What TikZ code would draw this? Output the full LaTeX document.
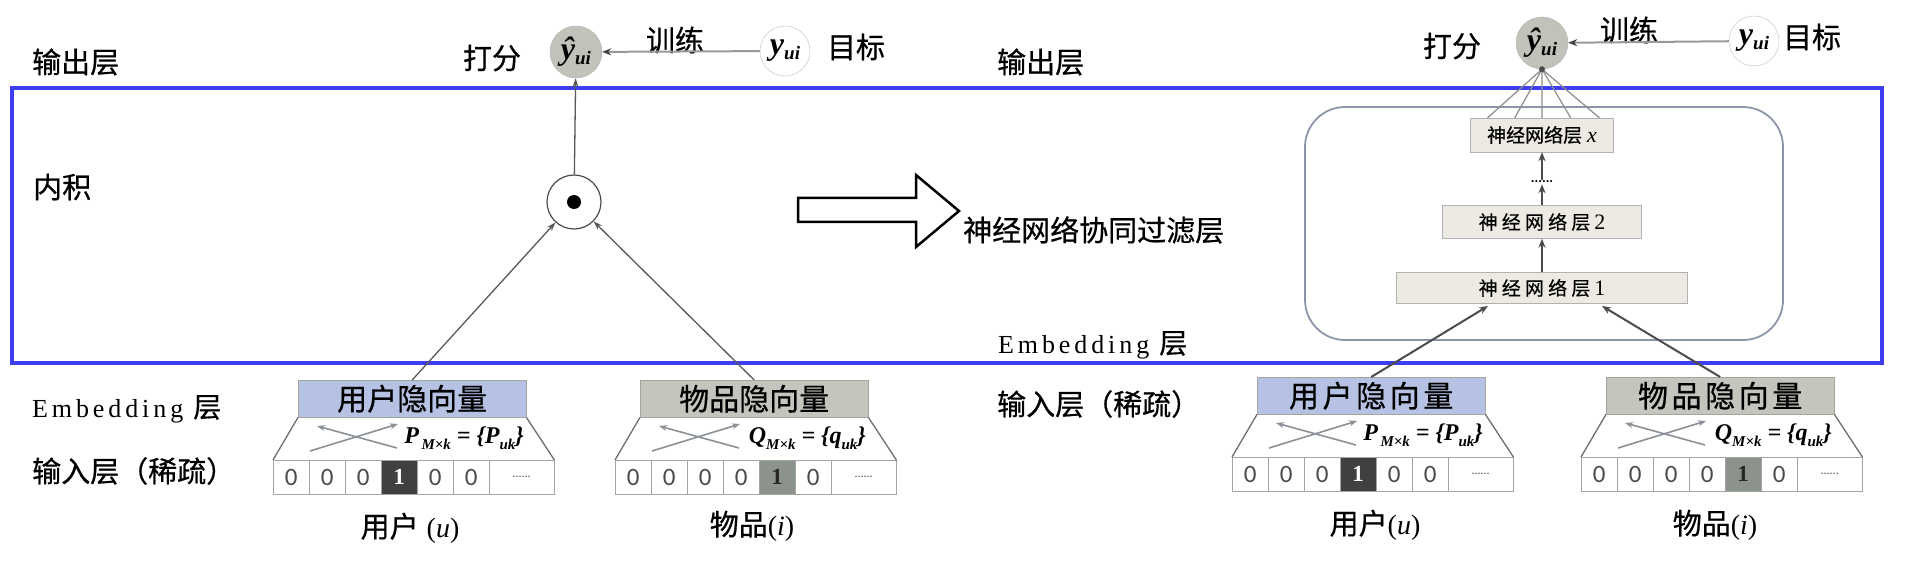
\documentclass[tikz,border=0pt]{standalone}
\usepackage{fontspec}
\setmainfont{Liberation Serif}
\newfontfamily\zh[FakeBold=0.6]{Noto Sans CJK SC}
\newfontfamily\zhs[LetterSpace=12,FakeBold=0.6]{Noto Sans CJK SC}
\newfontfamily\zhw[LetterSpace=22,FakeBold=0.4]{Noto Sans CJK SC}
\newfontfamily\embf[LetterSpace=15]{Liberation Serif}
\newfontfamily\digf{Carlito}
\usetikzlibrary{arrows.meta,calc}
\newcommand{\fz}[1]{\fontsize{#1}{#1}\selectfont}
\definecolor{frameblue}{RGB}{62,62,240}
\definecolor{ublue}{RGB}{182,194,228}
\definecolor{igray}{RGB}{196,197,189}
\definecolor{hatgray}{RGB}{194,194,186}
\definecolor{layerfill}{RGB}{236,234,226}
\definecolor{linegray}{RGB}{110,110,110}
\definecolor{cellline}{RGB}{165,165,160}
\definecolor{darkcell}{RGB}{64,64,64}
\definecolor{midcell}{RGB}{140,146,140}
\definecolor{crossgray}{RGB}{140,145,152}
\definecolor{roundgray}{RGB}{140,150,168}
\newcommand{\embblock}[9]{%
  \node[ebox, fill=#4] (#1) at (#2,#3) {#5};
  \foreach \i in {1,...,6}{%
    \ifnum\i=#7\relax
      \node[cell, fill=#8, text=#9, font=\bfseries\fz{23}] (#1c\i) at ({#2-25+36*(\i-1)},{#3+80}) {1};
    \else
      \node[cell] (#1c\i) at ({#2-25+36*(\i-1)},{#3+80}) {0};
    \fi
  }
  \node[cell, minimum width=65pt, font=\digf\fz{12}] (#1c7) at ({#2-25+216},{#3+80}) {......};
  \draw[trap] (#1.south west) -- (#1c1.north west);
  \draw[trap] (#1.south east) -- (#1c7.north east);
  \draw[xarr] ({#2+12},{#3+71}) -- ({#2+100},{#3+44});
  \draw[xarr] ({#2+99},{#3+68}) -- ({#2+19},{#3+46});
  \node[fml] (#1f) at ({#2+226},{#3+58}) {#6};
}
\tikzset{
  lab/.style={font=\zh\fz{29}, inner sep=0pt, anchor=west},
  lab2/.style={font=\zh\fz{29}, inner sep=0pt},
  ebox/.style={draw=cellline, minimum width=228pt, minimum height=37pt, inner sep=0pt, anchor=north west, font=\zh\fz{30}},
  cell/.style={draw=cellline, fill=white, minimum width=36pt, minimum height=34pt, inner sep=0pt, anchor=north west, font=\digf\fz{25}, text=black!70},
  trap/.style={draw=linegray, line width=1.3pt},
  xarr/.style={draw=crossgray, line width=1.6pt, -{Stealth[length=8pt,width=6pt]}},
  conn/.style={draw=black!65, line width=1.3pt, -{Stealth[length=9pt,width=6pt]}},
  connR/.style={draw=black!70, line width=2pt, -{Stealth[length=9pt,width=7pt]}},
  train/.style={draw=black!40, line width=2pt, -{Stealth[length=9pt,width=7pt,color=black!75]}},
  fan/.style={draw=black!45, line width=1.2pt},
  yhat/.style={circle, draw=black!30, fill=hatgray, minimum size=52pt, inner sep=0pt},
  ytgt/.style={circle, draw=black!25, fill=white, minimum size=50pt, inner sep=0pt},
  layer/.style={draw=black!30, fill=layerfill, inner sep=0pt, font=\zh\fz{19}},
  fml/.style={font=\bfseries\itshape\fz{24}, inner sep=0pt, anchor=east}
}
\newcommand{\yh}{{\bfseries\itshape\fz{32}ŷ}\raisebox{-5pt}{\bfseries\itshape\fz{19}ui}}
\newcommand{\yt}{{\bfseries\itshape\fz{32}y}\raisebox{-5pt}{\bfseries\itshape\fz{19}ui}}
\newcommand{\pf}{P\raisebox{-6pt}{\fz{15}\,M×k} = \{P\raisebox{-6pt}{\fz{15}uk}\}}
\newcommand{\qf}{Q\raisebox{-6pt}{\fz{15}M×k} = \{q\raisebox{-6pt}{\fz{15}uk}\}}
\begin{document}
\begin{tikzpicture}[x=1pt,y=-1pt]
\useasboundingbox (0,0) rectangle (1920,564);
\fill[white] (0,0) rectangle (1920,564);
% frame
\draw[draw=frameblue, line width=4pt] (12,88) rectangle (1882,363);
% left labels
\node[lab] (outL) at (32,62) {输出层};
\node[lab] (dotlab) at (33,187) {内积};
\node[inner sep=0pt, anchor=west] (embL) at (32,409) {{\embf\fz{26}Embedding}\hspace{10pt}{\zh\fz{28}层}};
\node[lab] (inL) at (32,471) {输入层（稀疏）};
% left top
\node[yhat] (yhL) at (576,52) {\yh};
\node[ytgt] (ytL) at (785,51) {\yt};
\node[lab2] (scoreL) at (492,58) {打分};
\node[lab2] (trainL) at (675,40) {训练};
\node[lab2] (goalL) at (856,47) {目标};
\draw[train] (ytL) -- (yhL);
% inner product
\node[circle, draw=black!70, line width=1.2pt, minimum size=54pt, inner sep=0pt] (odot) at (574,202) {};
\fill[black] (odot.center) circle (7pt);
\draw[conn] (odot) -- (yhL);
% left embedding blocks
\embblock{uL}{298}{380}{ublue}{用户隐向量}{\pf}{4}{darkcell}{white}
\embblock{iL}{640}{380}{igray}{物品隐向量}{\qf}{5}{midcell}{black!85}
\node[inner sep=0pt] (uLlab) at (410,528) {{\zh\fz{29}用户}\hspace{8pt}{\fz{28}(\textit{u})}};
\node[inner sep=0pt] (iLlab) at (752,526) {{\zh\fz{29}物品}{\fz{28}(\textit{i})}};
\draw[conn] (uL.north) -- (odot);
\draw[conn] (iL.north) -- (odot);
% hollow arrow
\draw[line width=2.5pt, fill=white, line join=miter] (798,198) -- (916,198) -- (916,175) -- (959,211) -- (916,247) -- (916,222) -- (798,222) -- cycle;
\node[lab] (ncf) at (963,230) {神经网络协同过滤层};
% right labels
\node[lab] (outR) at (997,62) {输出层};
\node[inner sep=0pt, anchor=west] (embR) at (998,345) {{\embf\fz{26}Embedding}\hspace{10pt}{\zh\fz{28}层}};
\node[lab] (inR) at (997,404) {输入层（稀疏）};
% right top
\node[yhat] (yhR) at (1542,43) {\yh};
\node[ytgt] (ytR) at (1754,41) {\yt};
\node[lab2] (scoreR) at (1452,46) {打分};
\node[lab2] (trainR) at (1629,30) {训练};
\node[lab2] (goalR) at (1812,37) {目标};
\draw[train] (ytR) -- (yhR);
% neural CF box
\draw[draw=roundgray, line width=1.8pt, rounded corners=40pt] (1305,107) rectangle (1783,340);
\node[layer, minimum width=143pt, minimum height=34pt] (lx) at (1542,135) {神经网络层\hspace{5pt}{\rmfamily\itshape\fz{22}x}};
\node[inner sep=1pt, font=\digf\bfseries\fz{14}] (dots) at (1542,182) {......};
\node[layer, minimum width=199pt, minimum height=33pt] (l2) at (1542,222) {{\zhw 神经网络层}\hspace{4pt}{\rmfamily\fz{22}2}};
\node[layer, minimum width=291pt, minimum height=31pt] (l1) at (1542,288) {{\zhw 神经网络层}\hspace{4pt}{\rmfamily\fz{22}1}};
\draw[connR] (l1.north) -- (l2.south);
\draw[connR] (l2.north) -- (dots.south);
\draw[connR] (dots.north) -- (lx.south);
\foreach \f in {0.12,0.31,0.5,0.7,0.9}
  \draw[fan] (yhR.south) -- ($(lx.north west)!\f!(lx.north east)$);
\fill[black!70] (yhR.south) circle (3pt);
% right embedding blocks
\embblock{uR}{1257}{377}{ublue}{{\zhs 用户隐向量}}{\pf}{4}{darkcell}{white}
\embblock{iR}{1606}{377}{igray}{{\zhs 物品隐向量}}{\qf}{5}{midcell}{black!85}
\node[inner sep=0pt] (uRlab) at (1375,525) {{\zh\fz{29}用户}{\fz{28}(\textit{u})}};
\node[inner sep=0pt] (iRlab) at (1715,525) {{\zh\fz{29}物品}{\fz{28}(\textit{i})}};
\coordinate (l1a) at (1488,306);
\coordinate (l1b) at (1602,306);
\draw[connR] (uR.north) -- (l1a);
\draw[connR] (iR.north) -- (l1b);
\end{tikzpicture}
\end{document}
